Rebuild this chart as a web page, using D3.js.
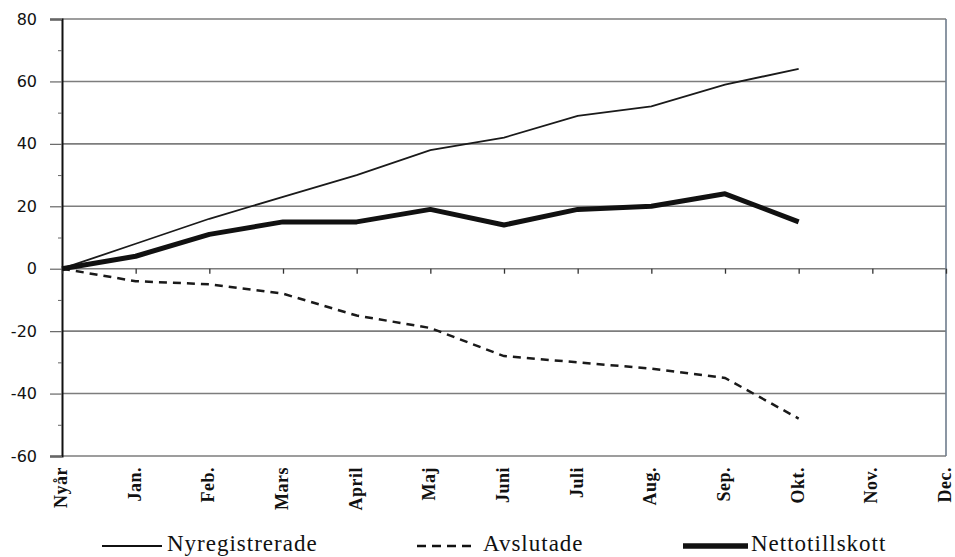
<!DOCTYPE html>
<html>
<head>
<meta charset="utf-8">
<script src="https://cdn.jsdelivr.net/npm/d3@7"></script>
<style>
  body { margin: 0; background: #fff; }
</style>
</head>
<body>
<svg id="canvas"></svg>
<script>
// months (x categories)
const months = ['Nyår', 'Jan.', 'Feb.', 'Mars', 'April', 'Maj', 'Juni', 'Juli', 'Aug.', 'Sep.', 'Okt.', 'Nov.', 'Dec.'];

// cumulative values, Nyår..Okt.
const nyregistrerade = [0, 8, 16, 23, 30, 38, 42, 49, 52, 59, 64];
const avslutade = [0, -4, -5, -8, -15, -19, -28, -30, -32, -35, -48];
const nettotillskott = [0, 4, 11, 15, 15, 19, 14, 19, 20, 24, 15];

const yTicks = [-60, -40, -20, 0, 20, 40, 60, 80];
const yMinorTicks = [-50, -30, -10, 10, 30, 50, 70];

const legendNames = ['Nyregistrerade', 'Avslutade', 'Nettotillskott'];

let width = 955;
let height = 557;

let plotLeft = 62;
let plotRight = 946;
let plotTop = 19;
let plotBottom = 456;

let canvas = d3.select('#canvas');
canvas.attr('width', width);
canvas.attr('height', height);

let xScale = d3.scalePoint()
    .domain(months)
    .range([plotLeft, plotRight]);

let yScale = d3.scaleLinear()
    .domain([-60, 80])
    .range([plotBottom, plotTop]);

// gridlines
canvas.append('g')
    .selectAll('line')
    .data(yTicks)
    .enter()
    .append('line')
    .attr('x1', plotLeft)
    .attr('x2', plotRight)
    .attr('y1', (d) => yScale(d))
    .attr('y2', (d) => yScale(d))
    .attr('stroke', '#7d7d7d')
    .attr('stroke-width', 1.6);

// right border
canvas.append('line')
    .attr('x1', plotRight).attr('x2', plotRight)
    .attr('y1', plotTop).attr('y2', plotBottom)
    .attr('stroke', '#6f7c8c')
    .attr('stroke-width', 1.6);

// y axis (plain hyphen for negatives, like the original)
let yAxis = d3.axisLeft(yScale)
    .tickValues(yTicks)
    .tickSize(12)
    .tickPadding(13)
    .tickFormat((d) => String(d));

let yAxisG = canvas.append('g')
    .attr('id', 'y-axis')
    .attr('transform', 'translate(' + plotLeft + ', 0)')
    .call(yAxis);

yAxisG.select('.domain').attr('stroke', '#111').attr('stroke-width', 2);
yAxisG.selectAll('.tick line').attr('stroke', '#666').attr('stroke-width', 1.2);
yAxisG.selectAll('text')
    .attr('font-family', 'DejaVu Sans')
    .attr('font-size', 16)
    .attr('fill', '#111');

let yMinor = d3.axisLeft(yScale)
    .tickValues(yMinorTicks)
    .tickSize(4)
    .tickFormat('');

canvas.append('g')
    .attr('transform', 'translate(' + plotLeft + ', 0)')
    .call(yMinor)
    .call((g) => g.select('.domain').remove())
    .selectAll('.tick line').attr('stroke', '#666');

// x axis on zero line
let xAxis = d3.axisBottom(xScale)
    .tickSize(5)
    .tickFormat('');

let xAxisG = canvas.append('g')
    .attr('id', 'x-axis')
    .attr('transform', 'translate(0, ' + yScale(0) + ')')
    .call(xAxis);

xAxisG.select('.domain').remove();
xAxisG.selectAll('.tick line').attr('stroke', '#333').attr('stroke-width', 1.3);

// x labels at the bottom, rotated
canvas.append('g')
    .selectAll('text')
    .data(months)
    .enter()
    .append('text')
    .attr('transform', (d) => 'translate(' + (xScale(d) + 5) + ', ' + (plotBottom + 11) + ') rotate(-90)')
    .attr('text-anchor', 'end')
    .attr('font-family', 'Liberation Serif')
    .attr('font-weight', 'bold')
    .attr('font-size', 18)
    .attr('letter-spacing', 0.5)
    .attr('fill', '#111')
    .text((d) => d);

// lines
let line = d3.line()
    .x((d, i) => xScale(months[i]))
    .y((d) => yScale(d));

canvas.append('path')
    .datum(nyregistrerade)
    .attr('d', line)
    .attr('fill', 'none')
    .attr('stroke', '#1a1a1a')
    .attr('stroke-width', 1.8);

canvas.append('path')
    .datum(avslutade)
    .attr('d', line)
    .attr('fill', 'none')
    .attr('stroke', '#1a1a1a')
    .attr('stroke-width', 2.5)
    .attr('stroke-dasharray', '8,6');

canvas.append('path')
    .datum(nettotillskott)
    .attr('d', line)
    .attr('fill', 'none')
    .attr('stroke', '#111')
    .attr('stroke-width', 5)
    .attr('stroke-linejoin', 'round');

// legend
let legendX = [102, 417, 683];
let legendStyle = [
    { w: 1.8, dash: null, len: 60, gap: 5 },
    { w: 2.4, dash: '9,6', len: 55, gap: 11 },
    { w: 5.5, dash: null, len: 65, gap: 3 }
];
let legendY = 546;

let legend = canvas.append('g')
    .selectAll('g')
    .data(legendNames)
    .enter()
    .append('g')
    .attr('transform', (d, i) => 'translate(' + legendX[i] + ', ' + legendY + ')');

legend.append('line')
    .attr('x1', 0)
    .attr('x2', (d, i) => legendStyle[i].len)
    .attr('stroke', '#111')
    .attr('stroke-width', (d, i) => legendStyle[i].w)
    .attr('stroke-dasharray', (d, i) => legendStyle[i].dash);

legend.append('text')
    .attr('x', (d, i) => legendStyle[i].len + legendStyle[i].gap)
    .attr('y', 5)
    .attr('font-family', 'Liberation Serif')
    .attr('font-size', 23)
    .attr('letter-spacing', 1)
    .attr('fill', '#111')
    .text((d) => d);
</script>
</body>
</html>
